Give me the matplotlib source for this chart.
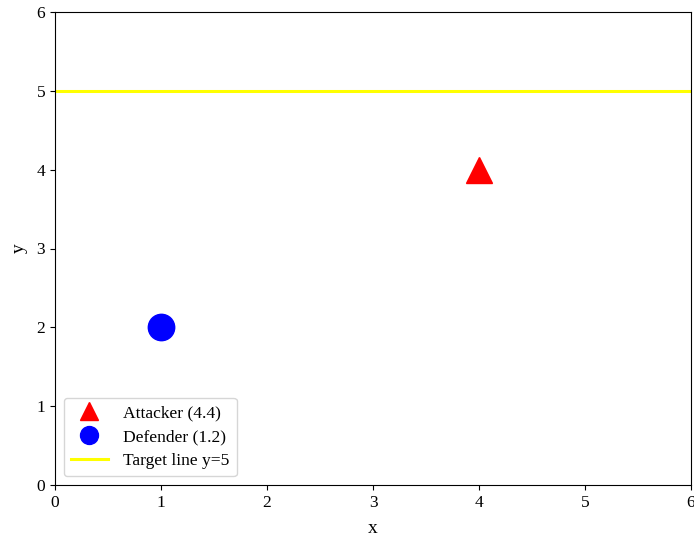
import numpy as np
import matplotlib.pyplot as plt

plt.rcParams['font.family'] = ['Liberation Serif', 'DejaVu Serif']

attacker = [4, 4]
defender = [1, 2]
target_y = 5
xlim = [0, 6]
ylim = [0, 6]

fig = plt.figure(figsize=(6.94, 5.4), dpi=100)
ax = fig.add_axes([55/694, 1 - 485/540, 636/694, 473/540])

ax.plot(attacker[0], attacker[1], '^', color='red', markersize=19, label='Attacker (4.4)')
ax.plot(defender[0], defender[1], 'o', color='blue', markersize=19, label='Defender (1.2)')
ax.axhline(target_y, color='yellow', linewidth=2.2, label='Target line y=5')

ax.set_xlim(xlim)
ax.set_ylim(ylim)
ax.set_xlabel('x', fontsize=14, labelpad=7)
ax.set_ylabel('y', fontsize=14, labelpad=6)
ax.tick_params(labelsize=12.5)
ax.legend(loc='lower left', fontsize=12.6, markerscale=0.68, handlelength=2.1,
          handletextpad=0.9, borderaxespad=0.5, labelspacing=0.45)

fig.savefig('out.png', dpi=100)
